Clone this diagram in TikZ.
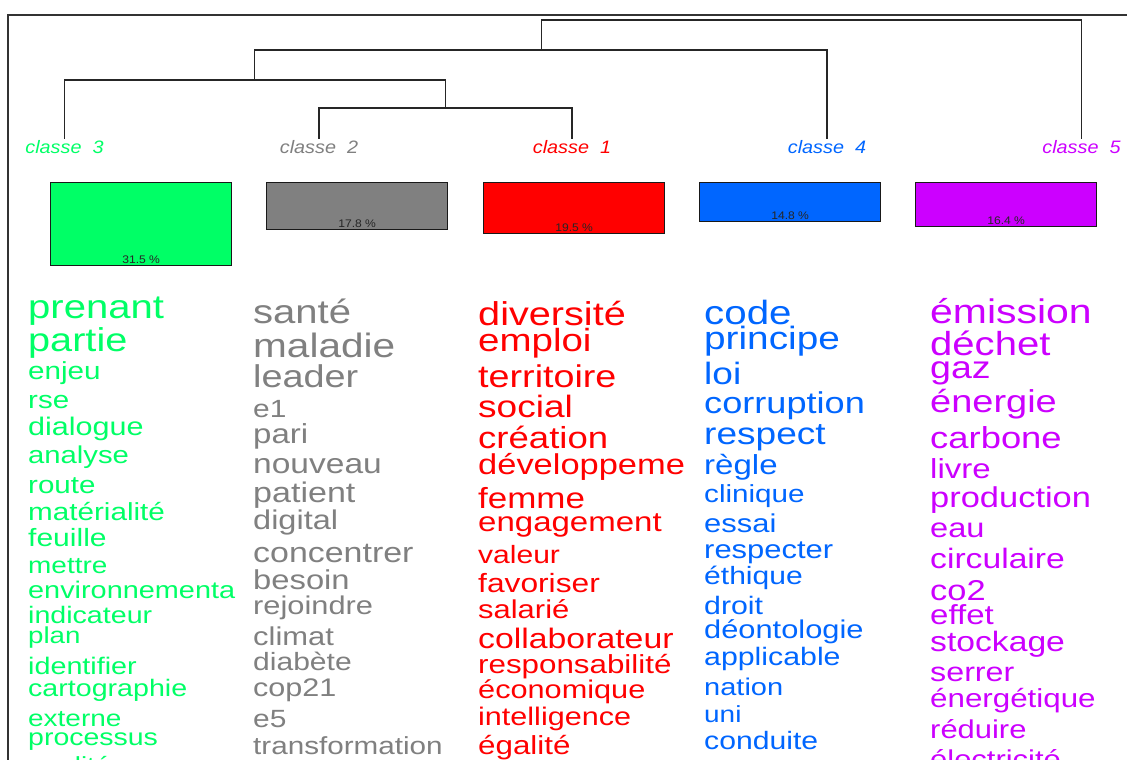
\documentclass[tikz,border=0pt]{standalone}
\usepackage{fontspec}
\setmainfont{Liberation Sans}
\newfontfamily\wordf[FakeStretch=1.2]{Liberation Sans}
\newfontfamily\lblf[FakeStretch=1.1]{Liberation Sans}
\definecolor{cgreen}{RGB}{0,255,102}
\definecolor{cgray}{RGB}{128,128,128}
\definecolor{cred}{RGB}{255,0,0}
\definecolor{cblue}{RGB}{0,102,255}
\definecolor{cmag}{RGB}{204,0,255}
\tikzset{
  word/.style={anchor=base west, inner sep=0pt},
  clabel/.style={anchor=base, inner sep=0pt, outer sep=1pt, font=\lblf\itshape\fontsize{18}{18}\selectfont},
  bar/.style={draw=black!90, line width=1.3pt, minimum width=181pt, inner sep=0pt},
  pct/.style={inner sep=0pt, text=black!85, font=\lblf\fontsize{11}{11}\selectfont},
  dendro/.style={draw=black!85, line width=1.3pt},
  frame/.style={draw=black!80, line width=1.2pt}
}
\begin{document}
\begin{tikzpicture}[x=1pt,y=-1pt]
\useasboundingbox (0,0) rectangle (1127,760);
\clip (0,0) rectangle (1127,760);
\fill[white] (0,0) rectangle (1127,760);
% frame
\coordinate (fbl) at (8,760);
\coordinate (ftl) at (8,15);
\coordinate (ftr) at (1127,15);
\draw[frame] (fbl) -- (ftl) -- (ftr);
% class labels
\node[clabel, text=cgreen] (c3) at (64.5,153) {classe\ \ 3};
\node[clabel, text=cgray]  (c2) at (319,153) {classe\ \ 2};
\node[clabel, text=cred]   (c1) at (572,153) {classe\ \ 1};
\node[clabel, text=cblue]  (c4) at (827,153) {classe\ \ 4};
\node[clabel, text=cmag]   (c5) at (1081.5,153) {classe\ \ 5};
% dendrogram
\coordinate (m21) at (445.5,108);
\coordinate (m321) at (254.5,80);
\coordinate (m4) at (541.5,50);
\coordinate (top) at (541.5,20);
\draw[dendro] (c2.north) |- (m21) -| (c1.north);
\draw[dendro] (c3.north) |- (m321) -| (m21);
\draw[dendro] (m321) |- (m4) -| (c4.north);
\draw[dendro] (m4) |- (top) -| (c5.north);
% bars
\node[bar, fill=cgreen, minimum height=83pt, anchor=north west] (b3) at (50,182) {};
\node[bar, fill=cgray,  minimum height=47pt, anchor=north west] (b2) at (266,182) {};
\node[bar, fill=cred,   minimum height=51pt, anchor=north west] (b1) at (483,182) {};
\node[bar, fill=cblue,  minimum height=39pt, anchor=north west] (b4) at (699,182) {};
\node[bar, fill=cmag,   minimum height=44pt, anchor=north west] (b5) at (915,182) {};
\node[pct] (p3) at ([yshift=7pt]b3.south) {31.5 \%};
\node[pct] (p2) at ([yshift=7pt]b2.south) {17.8 \%};
\node[pct] (p1) at ([yshift=7pt]b1.south) {19.5 \%};
\node[pct] (p4) at ([yshift=7pt]b4.south) {14.8 \%};
\node[pct] (p5) at ([yshift=7pt]b5.south) {16.4 \%};
% word columns
\foreach \t/\s/\y [count=\i, evaluate=\s as \sz using \s*1.0833] in {prenant/30.8/318, partie/30.5/351, enjeu/22.8/379, rse/22.7/408, dialogue/23.5/435, analyse/22.5/463, route/22.7/493, matérialité/22.8/520, feuille/23.1/546, mettre/21.5/573, environnementa/22.2/598, indicateur/22/623, plan/21.3/643, identifier/22.1/674, cartographie/22/696, externe/21.5/726, processus/21.9/745, qualité/21.5/773}
  \node[word, text=cgreen, font=\wordf\fontsize{\sz}{\sz}\selectfont] (g\i) at (28,\y) {\t};
\foreach \t/\s/\y [count=\i, evaluate=\s as \sz using \s*1.0833] in {santé/30.8/323, maladie/31.2/357, leader/29.1/387, e1/23/417, pari/25.4/443, nouveau/25.8/473, patient/26.2/502, digital/25/529, concentrer/26.1/562, besoin/25.2/589, rejoindre/23.7/614, climat/23.8/645, diabète/23.1/670, cop21/23.5/696, e5/23/727, transformation/22.8/754}
  \node[word, text=cgray, font=\wordf\fontsize{\sz}{\sz}\selectfont] (k\i) at (253,\y) {\t};
\foreach \t/\s/\y [count=\i, evaluate=\s as \sz using \s*1.0833] in {diversité/30.5/325, emploi/29.6/351, territoire/29/387, social/28.5/417, création/28.1/448, développeme/26.5/474, femme/26.9/508, engagement/25.4/531, valeur/23.1/563, favoriser/24.4/592, salarié/23.8/618, collaborateur/26/648, responsabilité/24.1/673, économique/23.6/698, intelligence/23.5/725, égalité/24.1/754}
  \node[word, text=cred, font=\wordf\fontsize{\sz}{\sz}\selectfont] (r\i) at (478,\y) {\t};
\foreach \t/\s/\y [count=\i, evaluate=\s as \sz using \s*1.0833] in {code/31/324, principe/29.8/349, loi/28.5/384, corruption/27.8/413, respect/28.5/444, règle/25.4/474, clinique/22.8/502, essai/23.8/532, respecter/23.8/558, éthique/23.1/584, droit/23.3/614, déontologie/23.7/638, applicable/23.3/665, nation/22.3/695, uni/21.5/722, conduite/23.2/749}
  \node[word, text=cblue, font=\wordf\fontsize{\sz}{\sz}\selectfont] (u\i) at (704,\y) {\t};
\foreach \t/\s/\y [count=\i, evaluate=\s as \sz using \s*1.0833] in {émission/31.5/323, déchet/30.8/355, gaz/28.9/378, énergie/29.2/412, carbone/28/448, livre/25.4/478, production/26.5/507, eau/25.1/537, circulaire/25.9/568, co2/26.5/600, effet/25.4/624, stockage/25.9/651, serrer/24.8/681, énergétique/24.1/707, réduire/23.8/738, électricité/23.8/768}
  \node[word, text=cmag, font=\wordf\fontsize{\sz}{\sz}\selectfont] (v\i) at (930,\y) {\t};
\end{tikzpicture}
\end{document}
